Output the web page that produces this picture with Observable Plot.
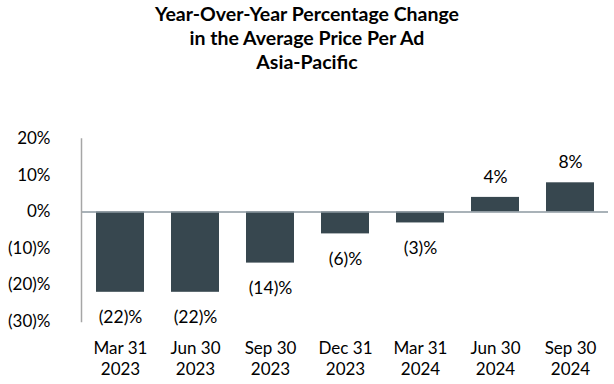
<!DOCTYPE html>
<html><head><meta charset="utf-8">
<script src="https://cdn.jsdelivr.net/npm/d3@7"></script>
<script src="https://cdn.jsdelivr.net/npm/@observablehq/plot@0.6"></script>
<style>
body{margin:0;background:#fff;font-family:Lato,"Open Sans",sans-serif;}
#title{width:614px;height:80px;text-align:center;font-weight:bold;font-size:19.5px;line-height:24px;padding-top:2px;box-sizing:border-box;color:#000;}
</style></head><body>
<div id="title">Year-Over-Year Percentage Change<br>in the Average Price Per Ad<br>Asia-Pacific</div>
<div id="chart"></div>
<script>
const periods = ["Mar 31\n2023","Jun 30\n2023","Sep 30\n2023","Dec 31\n2023","Mar 31\n2024","Jun 30\n2024","Sep 30\n2024"];
const changes = [-22,-22,-14,-6,-3,4,8];
const yTicks = [20,10,0,-10,-20,-30];

const data = periods.map((p,i)=>({period:p, value:changes[i]}));
const fmt = v => v < 0 ? `(${Math.abs(v)})%` : `${v}%`;
const neg = data.filter(d => d.value < 0);
const pos = data.filter(d => d.value >= 0);

const chart = Plot.plot({
  width: 614, height: 304,
  marginLeft: 81, marginRight: 6, marginTop: 58.5, marginBottom: 63,
  style: {fontFamily: "Lato, 'Open Sans', sans-serif", fontSize: "17px", color: "#000"},
  x: {domain: periods, paddingInner: 0.36, paddingOuter: 0.18, label: null},
  y: {domain: [-30, 20], label: null},
  marks: [
    Plot.barY(data, {x: "period", y: "value", fill: "#37474f"}),
    Plot.ruleY([0], {stroke: "#8c99a1", strokeWidth: 1.5}),
    Plot.frame({anchor: "left", stroke: "#a6a6a6", strokeWidth: 1.5}),
    Plot.axisY({ticks: yTicks, tickFormat: fmt, tickSize: 0, tickPadding: 31, label: null, fontSize: 17, fill: "#000"}),
    Plot.axisX({tickSize: 0, tickPadding: 18, label: null, fontSize: 17, fill: "#000", lineHeight: 1.22}),
    Plot.text(neg, {x: "period", y: "value", text: d => fmt(d.value), dy: 25, fontSize: 17.5, fill: "#000"}),
    Plot.text(pos, {x: "period", y: "value", text: d => fmt(d.value), dy: -20, fontSize: 17.5, fill: "#000"})
  ]
});
document.getElementById("chart").appendChild(chart);
</script>
</body></html>
